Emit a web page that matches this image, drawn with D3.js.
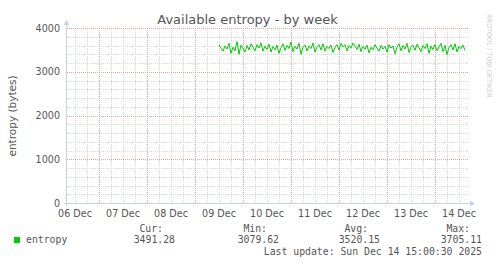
<!DOCTYPE html>
<html lang="en">
<head>
<meta charset="utf-8">
<title>Available entropy - by week</title>
<script src="https://cdn.jsdelivr.net/npm/d3@7"></script>
<style>
  body { margin: 0; background: #fff; }
  text { font-family: "DejaVu Sans", sans-serif; fill: #555; }
  .mono { font-family: "DejaVu Sans Mono", monospace; font-size: 9.8px; fill: #555; }
</style>
</head>
<body>
<script>
// data (hourly averages)
var dayTicks = ["06 Dec", "07 Dec", "08 Dec", "09 Dec", "10 Dec", "11 Dec", "12 Dec", "13 Dec", "14 Dec"];
var yTicks = [0, 1000, 2000, 3000, 4000];
var firstSample = "2025-12-09T12:00";
var entropy = [
  3620, 3540, 3470, 3590, 3520, 3650, 3420, 3560, 3480, 3690, 3400, 3610,
  3530, 3450, 3600, 3500, 3640, 3560, 3480, 3620, 3540, 3660, 3470, 3590,
  3510, 3630, 3450, 3580, 3500, 3610, 3420, 3550, 3640, 3490, 3600, 3530,
  3680, 3460, 3580, 3520, 3650, 3400, 3560, 3610, 3480, 3590, 3530, 3660,
  3450, 3570, 3620, 3500, 3640, 3470, 3580, 3530, 3610, 3440, 3560, 3620,
  3500, 3650, 3570, 3620, 3480, 3600, 3540, 3660, 3590, 3510, 3630, 3460,
  3580, 3520, 3610, 3430, 3560, 3500, 3620, 3540, 3470, 3600, 3520, 3580,
  3450, 3620, 3540, 3590, 3410, 3560, 3640, 3480, 3600, 3520, 3650, 3440,
  3570, 3610, 3490, 3630, 3550, 3460, 3600, 3530, 3640, 3420, 3590, 3510,
  3620, 3480, 3570, 3650, 3460, 3600, 3390, 3560, 3620, 3500, 3640, 3450,
  3580, 3530, 3610, 3490
];
var legendNames = ["Cur:", "Min:", "Avg:", "Max:"];
var legendValues = ["3491.28", "3079.62", "3520.15", "3705.11"];
var lastUpdate = "Last update: Sun Dec 14 15:00:30 2025";

var W = 497, H = 264;
var pL = 67, pR = 467, pT = 28, pB = 203;

var parse = d3.utcParse("%Y-%m-%dT%H:%M");
var t0 = parse(firstSample);
var data = entropy.map(function (v, i) {
  return { t: d3.utcHour.offset(t0, i), v: v };
});

var x = d3.scaleUtc()
  .domain([parse("2025-12-06T08:00"), parse("2025-12-14T16:00")])
  .range([pL, pR]);
var y = d3.scaleLinear().domain([0, 4000]).range([pB, pT]);

var svg = d3.select("body").append("svg").attr("width", W).attr("height", H);

// grid: minor first, then major
var g = svg.append("g");
var sixH = d3.utcHour.every(6).range(x.domain()[0], x.domain()[1]);
g.selectAll(".vmin").data(sixH).enter().append("line")
  .attr("x1", function (d) { return Math.round(x(d)) + 0.5; })
  .attr("x2", function (d) { return Math.round(x(d)) + 0.5; })
  .attr("y1", pT).attr("y2", pB)
  .attr("stroke", "#d8d8d8").attr("stroke-dasharray", "1,1");
var minorY = d3.range(200, 4001, 200);
g.selectAll(".hmin").data(minorY).enter().append("line")
  .attr("x1", pL).attr("x2", pR + 1)
  .attr("y1", function (d) { return Math.round(y(d)) + 0.5; })
  .attr("y2", function (d) { return Math.round(y(d)) + 0.5; })
  .attr("stroke", "#d8d8d8").attr("stroke-dasharray", "1,1");

var days = d3.utcDay.range(x.domain()[0], x.domain()[1]);
g.selectAll(".vmaj").data(days).enter().append("line")
  .attr("x1", function (d) { return Math.round(x(d)) + 0.5; })
  .attr("x2", function (d) { return Math.round(x(d)) + 0.5; })
  .attr("y1", pT).attr("y2", pB)
  .attr("stroke", "#e8a0a0").attr("stroke-dasharray", "1,1");
g.selectAll(".hmaj").data(yTicks.slice(1)).enter().append("line")
  .attr("x1", pL).attr("x2", pR + 1)
  .attr("y1", function (d) { return Math.round(y(d)) + 0.5; })
  .attr("y2", function (d) { return Math.round(y(d)) + 0.5; })
  .attr("stroke", "#e8a0a0").attr("stroke-dasharray", "1,1");

// axes with arrows
var axisCol = "#c8d0f0";
svg.append("line").attr("x1", pL - 0.5).attr("x2", pL - 0.5)
  .attr("y1", pB + 3).attr("y2", pT - 6).attr("stroke", axisCol);
svg.append("path").attr("d", "M" + (pL - 3.5) + "," + (pT - 3) + "L" + (pL - 0.5) + "," + (pT - 8) + "L" + (pL + 2.5) + "," + (pT - 3) + "Z")
  .attr("fill", axisCol);
svg.append("line").attr("x1", pL - 3).attr("x2", pR + 6)
  .attr("y1", pB + 0.5).attr("y2", pB + 0.5).attr("stroke", axisCol);
svg.append("path").attr("d", "M" + (pR + 3) + "," + (pB - 2.5) + "L" + (pR + 8) + "," + (pB + 0.5) + "L" + (pR + 3) + "," + (pB + 3.5) + "Z")
  .attr("fill", axisCol);

// tick labels
svg.selectAll(".yl").data(yTicks).enter().append("text")
  .attr("x", pL - 7).attr("y", function (d) { return y(d) + 3.5; })
  .attr("text-anchor", "end").style("font-size", "9.6px")
  .text(function (d) { return d; });

var firstDay = d3.utcDay.floor(x.domain()[0]);
svg.selectAll(".xl").data(dayTicks).enter().append("text")
  .attr("x", function (d, i) { return x(d3.utcHour.offset(d3.utcDay.offset(firstDay, i), 12)); })
  .attr("y", pB + 13.5)
  .attr("text-anchor", "middle").style("font-size", "9.6px")
  .text(function (d) { return d; });

// series
var line = d3.line().x(function (d) { return x(d.t); }).y(function (d) { return y(d.v); });
svg.append("path").datum(data).attr("d", line)
  .attr("fill", "none").attr("stroke", "#00cc00").attr("stroke-width", 1);

// title, axis label, watermark
svg.append("text").attr("x", 247.5).attr("y", 24).attr("text-anchor", "middle")
  .style("font-size", "13px").text("Available entropy - by week");
svg.append("text").attr("transform", "translate(16,116) rotate(-90)")
  .attr("text-anchor", "middle").style("font-size", "10.5px").text("entropy (bytes)");
svg.append("text").attr("transform", "translate(487,14) rotate(90)")
  .style("font-size", "6.5px").style("fill", "#cccccc").text("RRDTOOL / TOBI OETIKER");

// legend
svg.append("rect").attr("x", 14).attr("y", 237).attr("width", 6).attr("height", 6)
  .attr("fill", "#00cc00");
svg.append("text").attr("class", "mono").attr("x", 26).attr("y", 243).text("entropy");
var nameEnd = [163, 267, 368, 470];
var valEnd = [175, 279, 380, 482];
svg.selectAll(".ln").data(legendNames).enter().append("text").attr("class", "mono")
  .attr("x", function (d, i) { return nameEnd[i]; }).attr("y", 232)
  .attr("text-anchor", "end").text(function (d) { return d; });
svg.selectAll(".lv").data(legendValues).enter().append("text").attr("class", "mono")
  .attr("x", function (d, i) { return valEnd[i]; }).attr("y", 243)
  .attr("text-anchor", "end").text(function (d) { return d; });
svg.append("text").attr("class", "mono").attr("x", 482).attr("y", 255)
  .attr("text-anchor", "end").text(lastUpdate);
</script>
</body>
</html>
